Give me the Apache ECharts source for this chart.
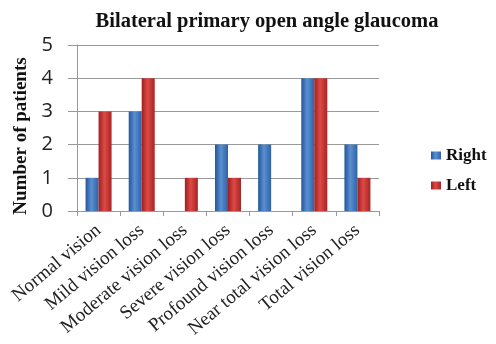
<!DOCTYPE html>
<html>
<head>
<meta charset="utf-8">
<script src="https://cdn.jsdelivr.net/npm/echarts@6/dist/echarts.min.js"></script>
<style>
  html, body { margin: 0; padding: 0; background: #fff; }
  #chart { width: 496px; height: 344px; }
</style>
</head>
<body>
<div id="chart"></div>
<script>
const categories = [
  'Normal vision',
  'Mild vision loss',
  'Moderate vision loss',
  'Severe vision loss',
  'Profound vision loss',
  'Near total vision loss',
  'Total vision loss'
];
const rightEye = [1, 3, 0, 2, 2, 4, 2];
const leftEye = [3, 4, 1, 1, 0, 4, 1];

const serif = '"Liberation Serif", "DejaVu Serif", serif';

// cylinder-ish shading across each bar
function shade(dark, mid, light) {
  return new echarts.graphic.LinearGradient(0, 0, 1, 0, [
    { offset: 0, color: dark },
    { offset: 0.45, color: light },
    { offset: 1, color: mid }
  ]);
}

const chart = echarts.init(document.getElementById('chart'));
chart.setOption({
  animation: false,
  title: {
    text: 'Bilateral primary open angle glaucoma',
    left: 262,
    textAlign: 'center',
    top: 6,
    textStyle: { fontFamily: serif, fontWeight: 'bold', fontSize: 20.5, color: '#111' }
  },
  legend: {
    orient: 'vertical',
    left: 426,
    top: 142,
    itemWidth: 10,
    itemHeight: 8,
    itemGap: 13,
    icon: 'rect',
    textStyle: { fontFamily: serif, fontWeight: 'bold', fontSize: 17, color: '#111' },
    data: ['Right', 'Left']
  },
  grid: { left: 77, right: 117, top: 45, bottom: 133 },
  xAxis: {
    type: 'category',
    data: categories,
    axisLine: { lineStyle: { color: '#999' } },
    axisTick: { show: true, length: 5, lineStyle: { color: '#999' } },
    axisLabel: {
      rotate: 40,
      interval: 0,
      margin: 17,
      fontFamily: serif,
      fontSize: 19,
      color: '#222'
    }
  },
  yAxis: {
    type: 'value',
    min: 0,
    max: 5,
    interval: 1,
    name: 'Number of patients',
    nameLocation: 'middle',
    nameGap: 40,
    nameTextStyle: {
      fontFamily: serif,
      fontWeight: 'bold',
      fontSize: 19,
      color: '#111',
      padding: [0, 16, 0, 0]
    },
    axisLine: { show: true, lineStyle: { color: '#999' } },
    axisTick: { show: true, length: 9, lineStyle: { color: '#999' } },
    axisLabel: { fontFamily: '"Open Sans", sans-serif', fontSize: 20, color: '#222', margin: 24 },
    splitLine: { lineStyle: { color: '#9a9a9a' } }
  },
  series: [
    {
      name: 'Right',
      type: 'bar',
      data: rightEye,
      barWidth: 13,
      barGap: '0%',
      itemStyle: { color: shade('#24569a', '#2f62a8', '#5a8fd0') }
    },
    {
      name: 'Left',
      type: 'bar',
      data: leftEye,
      barWidth: 13,
      itemStyle: { color: shade('#a01f1f', '#a82424', '#dc4a45') }
    }
  ]
});
</script>
</body>
</html>
